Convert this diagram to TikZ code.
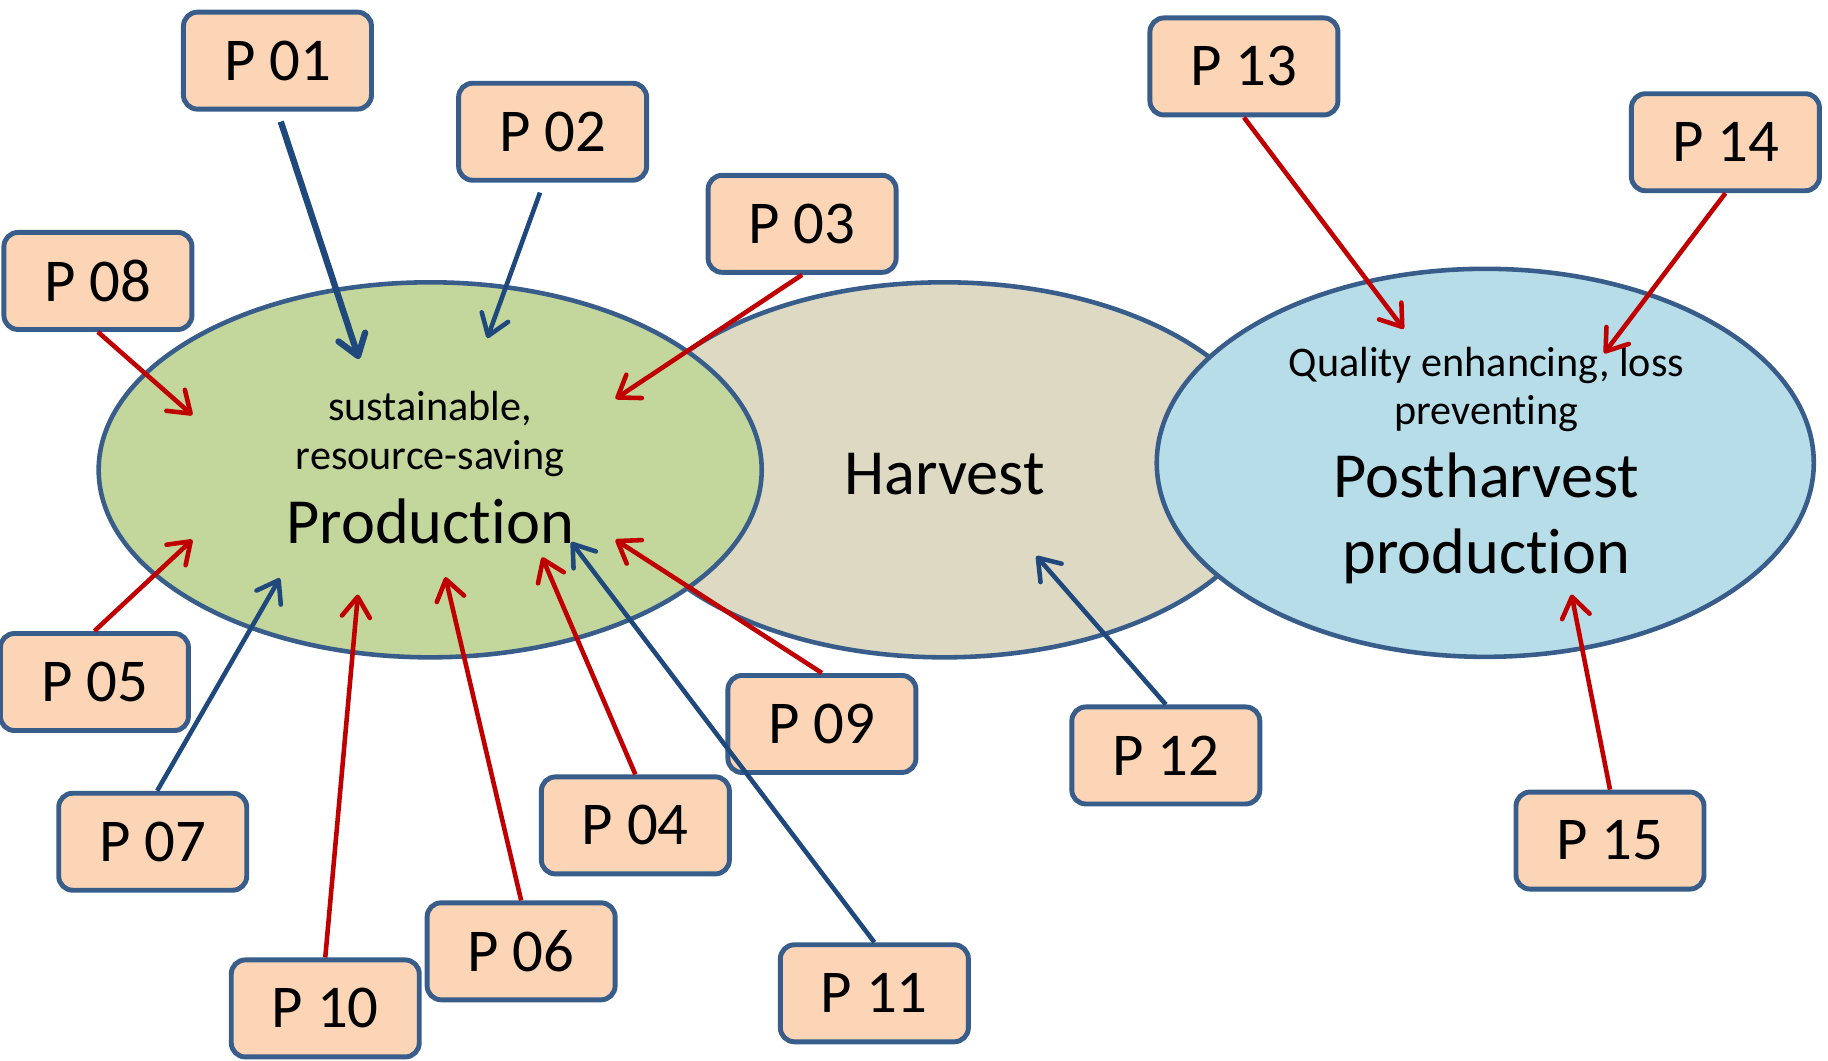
\documentclass[tikz,border=0pt]{standalone}
\usepackage{fontspec}
\setmainfont{Carlito}[Ligatures=NoCommon]
\usetikzlibrary{shapes.geometric, arrows.meta}

\definecolor{boxfill}{HTML}{FBD5B5}
\definecolor{frame}{HTML}{385D8A}
\definecolor{prodgreen}{HTML}{C3D69B}
\definecolor{harvbeige}{HTML}{DDD9C3}
\definecolor{postblue}{HTML}{B7DEE8}
\definecolor{arrred}{HTML}{C00000}
\definecolor{arrblue}{HTML}{1F497D}

\begin{document}
\begin{tikzpicture}[x=0.011658cm, y=-0.011658cm]
            \tikzset{pbox/.style = {draw=frame, fill=boxfill, line width=1.4pt, rounded corners=4pt,
                minimum width=1.88cm, minimum height=0.97cm, inner sep=0pt,
                font=\fontsize{17.3}{20}\selectfont}}
            \tikzset{field/.style = {ellipse, draw=frame, line width=1.3pt, inner sep=0pt}}
            \tikzset{redge/.style = {-{Straight Barb[length=2mm,width=2.8mm,round]}, draw=arrred, line width=1.3pt}}
            \tikzset{bedge/.style = {-{Straight Barb[length=2mm,width=2.8mm,round]}, draw=arrblue, line width=1.3pt}}
            \tikzset{small/.style = {anchor=base, inner sep=0pt, font=\fontsize{12}{14}\selectfont}}
            \tikzset{large/.style = {anchor=base, inner sep=0pt, font=\fontsize{18.3}{22}\selectfont}}

            \useasboundingbox (0,0) rectangle (1568,910);

            % fields
            \node[field, fill=harvbeige, minimum width=6.63cm, minimum height=3.75cm] (harv) at (810,403) {};
            \node[field, fill=prodgreen, minimum width=6.63cm, minimum height=3.75cm] (prod) at (369,403) {};
            \node[field, fill=postblue, minimum width=6.57cm, minimum height=3.88cm] (post) at (1274,397) {};

            % texts
            \node[small] (t1) at (369,361) {sustainable,};
            \node[small] (t2) at (369,403) {resource-saving};
            \node[large] (t3) at (369,466) {Production};
            \node[large] (t4) at (810,424) {Harvest};
            \node[small] (t5) at (1275,323) {Quality enhancing, loss};
            \node[small] (t6) at (1275,364) {preventing};
            \node[large] (t7) at (1275,427) {Postharvest};
            \node[large] (t8) at (1275,492) {production};

            % boxes
            \node[pbox] (p01) at (238,52) {P 01};
            \node[pbox] (p02) at (474,113) {P 02};
            \node[pbox] (p03) at (688,192) {P 03};
            \node[pbox] (p04) at (545,708) {P 04};
            \node[pbox] (p05) at (81,585) {P 05};
            \node[pbox] (p06) at (447,816) {P 06};
            \node[pbox] (p07) at (131,722) {P 07};
            \node[pbox] (p08) at (84,241) {P 08};
            \node[pbox] (p09) at (705,621) {P 09};
            \node[pbox] (p10) at (279,865) {P 10};
            \node[pbox] (p11) at (750,852) {P 11};
            \node[pbox] (p12) at (1000,648) {P 12};
            \node[pbox] (p13) at (1067,57) {P 13};
            \node[pbox] (p14) at (1480,122) {P 14};
            \node[pbox] (p15) at (1381,721) {P 15};

            % arrow targets
            \coordinate (a01) at (308,308);
            \coordinate (a02) at (418,290);
            \coordinate (a03) at (528,342);
            \coordinate (a04) at (465,478);
            \coordinate (a05) at (165,463);
            \coordinate (a06) at (382,495);
            \coordinate (a07) at (240,496);
            \coordinate (a08) at (165,356);
            \coordinate (a09) at (528,463);
            \coordinate (a10) at (307,510);
            \coordinate (a11) at (490,465);
            \coordinate (a12) at (889,477);
            \coordinate (a13) at (1204,282);
            \coordinate (a14) at (1376,303);
            \coordinate (a15) at (1348,510);

            % arrows
            \draw[bedge, line width=1.8pt, shorten <=3pt] (p01.south) -- (a01);
            \draw[bedge, shorten <=3pt] (p02.260) -- (a02);
            \draw[redge] (p03.south) -- (a03);
            \draw[redge] (p04.north) -- (a04);
            \draw[redge] (p05.north) -- (a05);
            \draw[redge] (p06.north) -- (a06);
            \draw[bedge] (p07.85) -- (a07);
            \draw[redge] (p08.south) -- (a08);
            \draw[redge] (p09.north) -- (a09);
            \draw[redge] (p10.north) -- (a10);
            \draw[bedge] (p11.north) -- (a11);
            \draw[bedge] (p12.north) -- (a12);
            \draw[redge] (p13.south) -- (a13);
            \draw[redge] (p14.south) -- (a14);
            \draw[redge] (p15.north) -- (a15);
\end{tikzpicture}
\end{document}
